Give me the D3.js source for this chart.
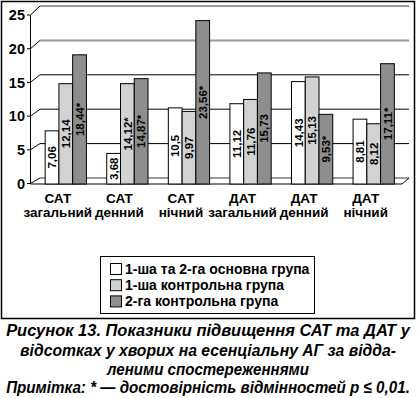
<!DOCTYPE html>
<html>
<head>
<meta charset="utf-8">
<script src="https://cdn.jsdelivr.net/npm/d3@7"></script>
<style>
  body { margin: 0; background: #fff; }
  text { font-family: "Liberation Sans", Arial, sans-serif; }
</style>
</head>
<body>
<svg id="chart" width="417" height="398"></svg>
<script>
// categories
const catTop = ["САТ", "САТ", "САТ", "ДАТ", "ДАТ", "ДАТ"];
const catBottom = ["загальний", "денний", "нічний", "загальний", "денний", "нічний"];

// series values (as printed on the bars)
const mainGroup = [7.06, 3.68, 10.5, 11.12, 14.43, 8.81];
const control1 = [12.14, 14.12, 9.97, 11.76, 15.13, 8.12];
const control2 = [18.44, 14.87, 23.56, 15.73, 9.53, 17.11];
// bar heights as drawn in the source (first light bar is drawn at 14,12 though labelled 12,14)
const control1Drawn = [14.12, 14.12, 9.97, 11.76, 15.13, 8.12];

const control1Stars = [false, true, false, false, false, false];
const control2Stars = [true, true, true, false, true, true];

const seriesNames = ["1-ша та 2-га основна група", "1-ша контрольна група", "2-га контрольна група"];
const yTicks = [0, 5, 10, 15, 20, 25];

const captionLines = [
    "Рисунок 13. Показники підвищення САТ та ДАТ у",
    "відсотках у хворих на есенціальну АГ за відда-",
    "леними спостереженнями",
    "Примітка: * — достовірність відмінностей p ≤ 0,01."
];

const colors = ["#ffffff", "#d2d2d2", "#8e8e8e"];

var svg = d3.select("#chart");

// frame
svg.append("rect")
    .attr("x", 1.5).attr("y", 1.5)
    .attr("width", 413).attr("height", 317)
    .attr("fill", "none").attr("stroke", "#000").attr("stroke-width", 1.5);

// scales: front plane for ticks, back wall for gridlines, bar tops
var yFront = d3.scaleLinear().domain([0, 25]).range([183.5, 15]);
var yBack = d3.scaleLinear().domain([0, 25]).range([178, 6]);
var yBar = d3.scaleLinear().domain([0, 25]).range([178, 11]);
const floorY = 184;

var x0 = d3.scaleBand()
    .domain(d3.range(catTop.length))
    .range([35, 404.5])
    .paddingInner(0.33)
    .paddingOuter(0.165);

var x1 = d3.scaleBand()
    .domain([0, 1, 2])
    .range([0, x0.bandwidth()]);

const axisX = 30.5, backX = 40, rightX = 409;

// gridlines on back wall + diagonals
var grid = svg.append("g");
yTicks.forEach(t => {
    const grey = (t === 0 || t >= 20);
    grid.append("line")
        .attr("x1", backX).attr("x2", rightX)
        .attr("y1", yBack(t)).attr("y2", yBack(t))
        .attr("stroke", grey ? "#9a9a9a" : "#000")
        .attr("stroke-width", grey ? 2 : 1);
    grid.append("line")
        .attr("x1", axisX).attr("y1", yFront(t))
        .attr("x2", backX).attr("y2", yBack(t))
        .attr("stroke", "#000").attr("stroke-width", 1);
    grid.append("line")
        .attr("x1", 27).attr("x2", axisX)
        .attr("y1", yFront(t)).attr("y2", yFront(t))
        .attr("stroke", "#000").attr("stroke-width", 1);
    grid.append("text")
        .attr("x", 25).attr("y", yFront(t))
        .attr("dy", "0.36em")
        .attr("text-anchor", "end")
        .attr("font-size", "14.5px").attr("font-weight", "bold")
        .text(t);
});

// y axis line
svg.append("line")
    .attr("x1", axisX).attr("x2", axisX)
    .attr("y1", yFront(25)).attr("y2", floorY)
    .attr("stroke", "#000").attr("stroke-width", 1);

// floor front edge
svg.append("line")
    .attr("x1", axisX).attr("x2", 402)
    .attr("y1", floorY).attr("y2", floorY)
    .attr("stroke", "#000").attr("stroke-width", 1);
svg.append("line")
    .attr("x1", 402).attr("y1", floorY)
    .attr("x2", rightX).attr("y2", yBack(0))
    .attr("stroke", "#000").attr("stroke-width", 1);

// bars
const rows = catTop.map((c, i) => [
    { s: 0, v: mainGroup[i], h: mainGroup[i], star: false },
    { s: 1, v: control1[i], h: control1Drawn[i], star: control1Stars[i] },
    { s: 2, v: control2[i], h: control2[i], star: control2Stars[i] }
]);

var groups = svg.selectAll(".grp")
    .data(rows)
    .enter().append("g")
    .attr("class", "grp")
    .attr("transform", (d, i) => "translate(" + x0(i) + ",0)");

groups.selectAll("rect")
    .data(d => d)
    .enter().append("rect")
    .attr("x", d => x1(d.s))
    .attr("y", d => yBar(d.h))
    .attr("width", x1.bandwidth())
    .attr("height", d => floorY - yBar(d.h))
    .attr("fill", d => colors[d.s])
    .attr("stroke", "#000")
    .attr("stroke-width", 1);

groups.selectAll(".val")
    .data(d => d)
    .enter().append("text")
    .attr("class", "val")
    .attr("transform", d => "translate(" + (x1(d.s) + x1.bandwidth() / 2) + "," + ((yBar(d.h) + floorY) / 2) + ") rotate(-90)")
    .attr("dy", "0.36em")
    .attr("text-anchor", "middle")
    .attr("font-size", "11.5px").attr("font-weight", "bold")
    .attr("fill", "#000")
    .text(d => String(d.v).replace(".", ",") + (d.star ? "*" : ""));

// category labels
catTop.forEach((c, i) => {
    const cx = x0(i) + x0.bandwidth() / 2 - 8;
    svg.append("text")
        .attr("x", cx).attr("y", 202.5)
        .attr("text-anchor", "middle")
        .attr("font-size", "13.5px").attr("font-weight", "bold")
        .text(c);
    svg.append("text")
        .attr("x", cx).attr("y", 216.5)
        .attr("text-anchor", "middle")
        .attr("font-size", "13.5px").attr("font-weight", "bold")
        .text(catBottom[i]);
});

// legend
var legend = svg.append("g");
legend.append("rect")
    .attr("x", 100.5).attr("y", 256.5)
    .attr("width", 214).attr("height", 57)
    .attr("fill", "#fff").attr("stroke", "#000").attr("stroke-width", 1);
seriesNames.forEach((name, i) => {
    const cy = 269 + i * 16.2;
    legend.append("rect")
        .attr("x", 110.5).attr("y", cy - 5.5)
        .attr("width", 11).attr("height", 11)
        .attr("fill", colors[i]).attr("stroke", "#000").attr("stroke-width", 1);
    legend.append("text")
        .attr("x", 125).attr("y", cy)
        .attr("dy", "0.36em")
        .attr("font-size", "14px").attr("font-weight", "bold")
        .text(name);
});

// caption: condensed horizontally to fit the target width
const capLayout = [
    { y: 336, len: 404 },
    { y: 355.5, len: 376 },
    { y: 375, len: 202 },
    { y: 393, len: 404 }
];
captionLines.forEach((line, i) => {
    var t = svg.append("text")
        .attr("text-anchor", "middle")
        .attr("font-size", "17px")
        .attr("font-weight", "bold").attr("font-style", "italic")
        .text(line);
    const natural = t.node().getComputedTextLength();
    const sx = Math.min(1, capLayout[i].len / natural);
    t.attr("transform", "translate(208," + capLayout[i].y + ") scale(" + sx + ",1)");
});
</script>
</body>
</html>
